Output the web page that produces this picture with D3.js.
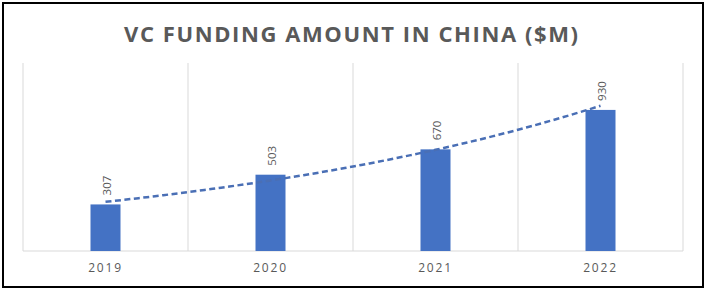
<!DOCTYPE html>
<html>
<head>
<meta charset="utf-8">
<script src="https://cdn.jsdelivr.net/npm/d3@7"></script>
<style>
  body { margin: 0; background: #fff; }
  svg { display: block; }
</style>
</head>
<body>
<svg id="chart" width="707" height="292"></svg>
<script>
const years = ["2019", "2020", "2021", "2022"];
const funding = [307, 503, 670, 930];
const chartTitle = "VC FUNDING AMOUNT IN CHINA ($M)";

const width = 707;
const height = 292;
const plot = { left: 23, right: 683, top: 63, bottom: 251 };

const svg = d3.select("#chart");

// outer frame
svg.append("rect")
    .attr("x", 3).attr("y", 3)
    .attr("width", 700).attr("height", 284)
    .attr("fill", "#fff")
    .attr("stroke", "#000")
    .attr("stroke-width", 2);

const x = d3.scaleBand()
    .domain(years)
    .range([plot.left, plot.right]);

// value 1000 sits ~151.7px above the baseline
const y = d3.scaleLinear()
    .domain([0, 1000])
    .range([plot.bottom, plot.bottom - 151.7]);

// category gridlines
const edges = years.map(d => x(d)).concat([plot.right]);
svg.append("g").selectAll("line")
    .data(edges)
    .join("line")
    .attr("x1", d => d).attr("x2", d => d)
    .attr("y1", plot.top).attr("y2", plot.bottom)
    .attr("stroke", "#d9d9d9")
    .attr("stroke-width", 1);

// baseline
svg.append("line")
    .attr("x1", plot.left).attr("x2", plot.right)
    .attr("y1", plot.bottom).attr("y2", plot.bottom)
    .attr("stroke", "#d9d9d9");

// bars
const barW = 30;
svg.append("g").selectAll("rect")
    .data(funding)
    .join("rect")
    .attr("x", (d, i) => x(years[i]) + x.bandwidth() / 2 - barW / 2)
    .attr("y", d => y(d))
    .attr("width", barW)
    .attr("height", d => plot.bottom - y(d))
    .attr("fill", "#4472c4");

// exponential trendline (least squares on ln values)
const n = funding.length;
const xs = d3.range(1, n + 1);
const lns = funding.map(v => Math.log(v));
const mx = d3.mean(xs), my = d3.mean(lns);
const b = d3.sum(xs, (t, i) => (t - mx) * (lns[i] - my)) / d3.sum(xs, t => (t - mx) * (t - mx));
const a = my - b * mx;
const centerX = d3.scaleLinear()
    .domain([1, n])
    .range([x(years[0]) + x.bandwidth() / 2, x(years[n - 1]) + x.bandwidth() / 2]);
const trendPts = d3.range(1, n + 0.001, 0.05).map(t => [t, Math.exp(a + b * t)]);
svg.append("path")
    .datum(trendPts)
    .attr("d", d3.line().x(d => centerX(d[0])).y(d => y(d[1])))
    .attr("fill", "none")
    .attr("stroke", "#4a6fb5")
    .attr("stroke-width", 2.5)
    .attr("stroke-dasharray", "6,3.5");

// value labels, rotated
svg.append("g").selectAll("text")
    .data(funding)
    .join("text")
    .attr("transform", (d, i) => `translate(${x(years[i]) + x.bandwidth() / 2 + 1},${y(d) - 9}) rotate(-90)`)
    .attr("dy", "0.35em")
    .attr("font-family", "'Open Sans', sans-serif")
    .attr("font-size", 11.5)
    .attr("fill", "#595959")
    .text(d => d);

// category labels
svg.append("g").selectAll("text")
    .data(years)
    .join("text")
    .attr("x", d => x(d) + x.bandwidth() / 2)
    .attr("y", 272)
    .attr("text-anchor", "middle")
    .attr("font-family", "'Open Sans', sans-serif")
    .attr("font-size", 12)
    .attr("letter-spacing", 1.8)
    .attr("fill", "#595959")
    .text(d => d);

// title
svg.append("text")
    .attr("x", 124)
    .attr("y", 42)
    .attr("textLength", 454)
    .attr("lengthAdjust", "spacing")
    .attr("font-family", "'Open Sans', sans-serif")
    .attr("font-weight", "bold")
    .attr("font-size", 22)
    .attr("fill", "#595959")
    .text(chartTitle);
</script>
</body>
</html>
